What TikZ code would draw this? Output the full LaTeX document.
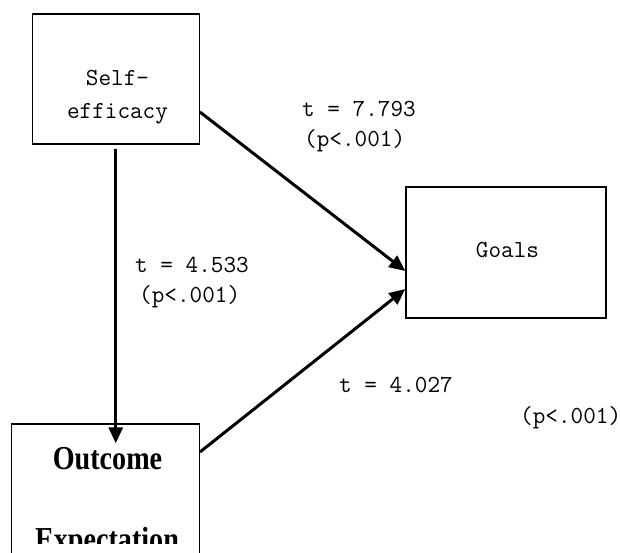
\documentclass[tikz,border=0pt]{standalone}
\usepackage{fontspec}
\usepackage{graphicx}
\setmainfont{Latin Modern Mono}
\newfontfamily\oefont{Liberation Serif}
\usetikzlibrary{arrows.meta,calc}
\begin{document}
\begin{tikzpicture}[x=1pt,y=-1pt,
  box/.style={draw,line width=1.4pt,inner sep=0pt},
  arr/.style={line width=3pt,-{Triangle[length=16pt,width=14pt]}},
  lbl/.style={anchor=base west,inner sep=0pt,font=\fontsize{24.5}{27}\selectfont},
  oetxt/.style={anchor=base,inner sep=0pt,font=\oefont\bfseries\fontsize{33.5}{38}\selectfont},
]
\useasboundingbox (0,0) rectangle (620,552);
\clip (0,0) rectangle (620,552);
\node[box,minimum width=167pt,minimum height=130pt] (se) at (115.75,79) {};
\node[box,minimum width=200pt,minimum height=131pt] (go) at (506,252.5) {};
\node[box,minimum width=187.5pt,minimum height=200pt] (oe) at (105.5,524) {};
\node[lbl,anchor=base] (seA) at (117.5,85) {Self-};
\node[lbl,anchor=base] (seB) at (117.5,118) {efficacy};
\node[lbl,anchor=base] (goT) at (507.5,257) {Goals};
\node[oetxt] (oeA) at (107.5,469) {\scalebox{0.84}[1]{Outcome}};
\begin{scope}
\clip (13,430) rectangle (198,543);
\node[oetxt] (oeB) at (107,550) {\scalebox{0.84}[1]{Expectation}};
\end{scope}
\node[lbl] (tA) at (302,116) {t = 7.793};
\node[lbl] (pA) at (304,146) {(p<.001)};
\node[lbl] (tB) at (135,272) {t = 4.533};
\node[lbl] (pB) at (139,302) {(p<.001)};
\node[lbl] (tC) at (339,392) {t = 4.027};
\node[lbl] (pC) at (520,423) {(p<.001)};
\coordinate (oeT) at ([yshift=-20pt]oe.north);
\draw[arr] ([yshift=-33pt]se.east) -- ([yshift=-18.5pt]go.west);
\draw[arr] ([yshift=-4pt]se.south) -- (se.south |- oeT);
\draw[arr] ([yshift=72pt]oe.east) -- ([yshift=-36.5pt]go.west);
\end{tikzpicture}
\end{document}
